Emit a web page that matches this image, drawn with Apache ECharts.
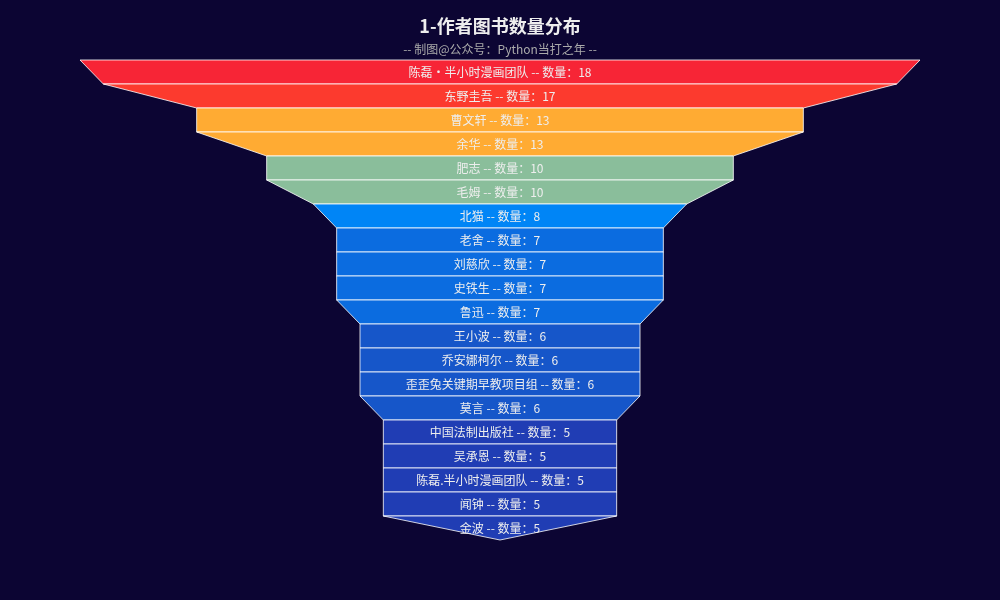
<!DOCTYPE html>
<html>
<head>
<meta charset="utf-8">
<script src="https://cdn.jsdelivr.net/npm/echarts@6/dist/echarts.min.js"></script>
<style>
  html, body { margin: 0; padding: 0; background: #0c0533; }
  #main { width: 1000px; height: 600px; }
</style>
</head>
<body>
<div id="main"></div>
<script>
const authors = ['陈磊·半小时漫画团队', '东野圭吾', '曹文轩', '余华', '肥志', '毛姆', '北猫', '老舍', '刘慈欣', '史铁生',
  '鲁迅', '王小波', '乔安娜柯尔', '歪歪兔关键期早教项目组', '莫言', '中国法制出版社', '吴承恩', '陈磊.半小时漫画团队', '闻钟', '金波']
const counts = [18, 17, 13, 13, 10, 10, 8, 7, 7, 7, 7, 6, 6, 6, 6, 5, 5, 5, 5, 5]

// colour by value bucket
function colorOf(v) {
  if (v >= 18) return '#f72536'
  if (v >= 15) return '#fc3a2e'
  if (v >= 11) return '#ffab33'
  if (v >= 9) return '#8abe9b'
  if (v >= 8) return '#0085f6'
  if (v >= 7) return '#0b6ce0'
  if (v >= 6) return '#1656c9'
  return '#203db4'
}

const data = authors.map((name, i) => ({
  name,
  value: counts[i],
  itemStyle: { color: colorOf(counts[i]) },
}))

const FONT = '"Noto Sans CJK SC", "Noto Sans", sans-serif'

const chart = echarts.init(document.getElementById('main'))
chart.setOption({
  backgroundColor: '#0c0533',
  animation: false,
  textStyle: { fontFamily: FONT },
  title: {
    text: '1-作者图书数量分布',
    subtext: '-- 制图@公众号：Python当打之年 --',
    left: 'center',
    top: 12,
    itemGap: 8,
    textStyle: { color: '#eeeeee', fontSize: 18, fontWeight: 'bold', fontFamily: FONT },
    subtextStyle: { color: '#aaaaaa', fontSize: 12, fontFamily: FONT },
  },
  series: [
    {
      type: 'funnel',
      left: 80,
      top: 60,
      width: 840,
      height: 480,
      min: 0,
      max: 18,
      sort: 'descending',
      gap: 0,
      label: {
        show: true,
        position: 'inside',
        color: '#eeeeee',
        fontSize: 12,
        fontFamily: FONT,
        formatter: (p) => `${p.name} -- 数量：${p.value}`,
      },
      itemStyle: { borderColor: 'rgba(255,255,255,0.8)', borderWidth: 1 },
      data,
    },
  ],
})
</script>
</body>
</html>
